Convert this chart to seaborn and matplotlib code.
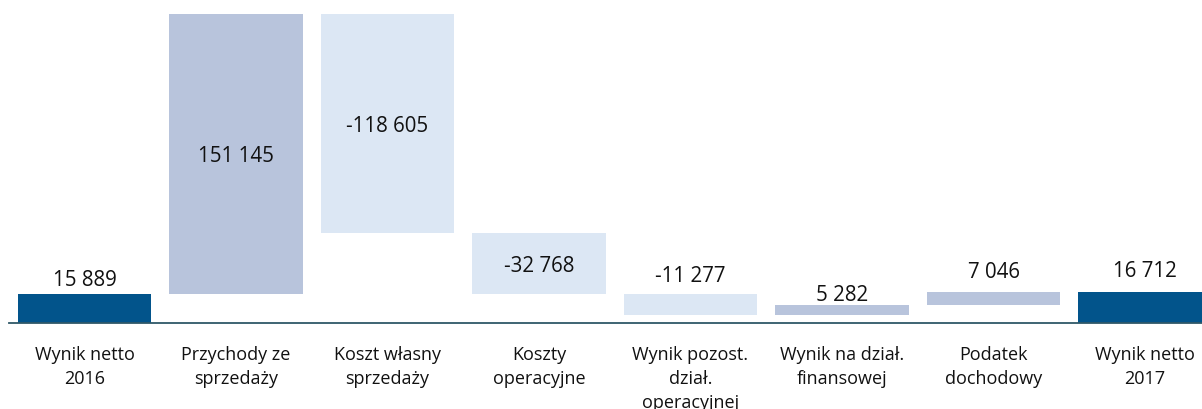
import numpy as np
import pandas as pd
import matplotlib
matplotlib.use("Agg")
import matplotlib.pyplot as plt
import matplotlib.transforms as mtransforms
import seaborn as sns

# ---- data ----
categories = [
    "Wynik netto\n2016",
    "Przychody ze\nsprzedaży",
    "Koszt własny\nsprzedaży",
    "Koszty\noperacyjne",
    "Wynik pozost.\ndział.\noperacyjnej",
    "Wynik na dział.\nfinansowej",
    "Podatek\ndochodowy",
    "Wynik netto\n2017",
]
changes = [15889, 151145, -118605, -32768, -11277, 5282, 7046, 16712]
kinds = ["total", "up", "down", "down", "down", "up", "up", "total"]

# ---- style ----
colors = {"total": "#02548B", "up": "#B8C4DC", "down": "#DCE7F4"}
label_place = ["above", "center", "center", "center", "above", "above", "above", "above"]
label_gap_px = [9, 0, 0, 0, 13, 5, 15, 16]

# waterfall geometry computed from the changes
bottoms, heights = [], []
running = 0
for v, k in zip(changes, kinds):
    if k == "total":
        bottoms.append(0)
        heights.append(v)
        running = v
    else:
        lo = min(running, running + v)
        bottoms.append(lo)
        heights.append(abs(v))
        running += v

df = pd.DataFrame({"cat": categories, "height": heights, "bottom": bottoms})

sns.set_theme(style="white")
plt.rcParams["font.family"] = ["Open Sans", "DejaVu Sans"]

W, H = 1202, 410
fig = plt.figure(figsize=(W / 100, H / 100), dpi=100)
# axes: category pitch 151.5 px, zero line at y=324 px, top of data at y=15 px
ax = fig.add_axes([8.75 / W, (H - 324) / H, 1212 / W, 309 / H])

sns.barplot(data=df, x="cat", y="height", bottom=df["bottom"].to_numpy(),
            width=0.878, errorbar=None, ax=ax, linewidth=0, saturation=1,
            color="#999999")
for p, k in zip(ax.patches, kinds):
    p.set_facecolor(colors[k])
    p.set_edgecolor("none")
    p.set_clip_on(False)

ymax = max(b + h for b, h in zip(bottoms, heights))
ax.set_ylim(0, ymax)
ax.set_xlim(-0.5, len(categories) - 0.5)
ax.set_xlabel("")
ax.set_ylabel("")
ax.set_xticks([])
ax.set_yticks([])
for s in ["top", "right", "left"]:
    ax.spines[s].set_visible(False)
ax.spines["bottom"].set_color("#2F5868")
ax.spines["bottom"].set_linewidth(1.3)

def fmt(v):
    s = f"{abs(v):,}".replace(",", " ")
    return ("-" if v < 0 else "") + s

for i, (v, b, h) in enumerate(zip(changes, bottoms, heights)):
    if label_place[i] == "center":
        ax.annotate(fmt(v), xy=(i, b + h / 2), xytext=(0, -7.5),
                    textcoords="offset pixels", ha="center", va="baseline",
                    fontsize=14.8, color="#111111", annotation_clip=False)
    else:
        ax.annotate(fmt(v), xy=(i, b + h), xytext=(0, label_gap_px[i]),
                    textcoords="offset pixels", ha="center", va="baseline",
                    fontsize=14.8, color="#111111", annotation_clip=False)

# category labels below the axis
trans = mtransforms.blended_transform_factory(ax.transData, fig.transFigure)
for i, lab in enumerate(categories):
    for j, line in enumerate(lab.split("\n")):
        y_px = 360 + 24 * j
        fig.text(i, (H - y_px) / H, line, transform=trans, ha="center",
                 va="baseline", fontsize=13, color="#111111")

fig.savefig("out.png", dpi=100)
